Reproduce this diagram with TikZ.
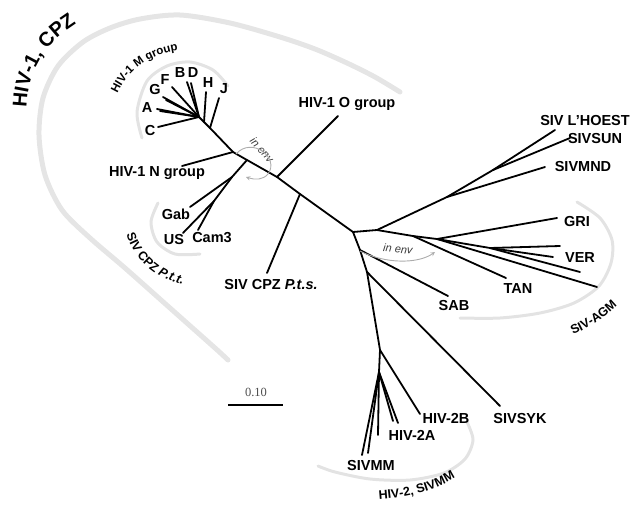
\documentclass[tikz,border=0pt]{standalone}
\usepackage{fontspec}
\setmainfont{Liberation Sans}
\newfontfamily\barfont{Liberation Serif}
\usetikzlibrary{positioning,decorations.text}

\tikzset{
  br/.style={line width=1.8pt, line cap=round},
  grp/.style={line width=5pt, gray!20, line cap=round},
  grpthin/.style={line width=3pt, gray!22, line cap=round},
  lab/.style={font=\fontsize{14.5}{16}\selectfont\bfseries, inner sep=1pt},
  envlab/.style={font=\fontsize{11}{13}\selectfont\itshape, text=gray!45!black, inner sep=1pt},
  envarr/.style={gray!65, line width=0.9pt, -stealth},
  arclab/.style={decorate, decoration={text along path, text align=center, text={#1}}},
}

\begin{document}
\begin{tikzpicture}[x=1pt, y=-1pt]
\useasboundingbox (0,0) rectangle (634,504);

%% grey clade arcs
\draw[grp] plot[smooth] coordinates {(400,92) (375,77) (347,63) (315,49) (280,37) (230,23) (180,15) (140,19) (110,28) (83,42) (58,66) (43,98) (39,135) (45,175) (62,210) (90,238) (125,268) (170,308) (215,348) (228,360)};
\draw[grpthin] plot[smooth] coordinates {(142,138) (137,112) (147,81) (167,66) (190,62) (213,70) (228,86)};
\draw[grpthin] plot[smooth] coordinates {(158,203) (151,222) (157,242) (175,254) (200,254)};
\draw[grpthin] plot[smooth] coordinates {(577,202) (600,218) (612,240) (611,263) (599,286) (574,303) (540,313) (500,318) (460,318)};
\draw[grpthin] plot[smooth] coordinates {(467,422) (473,440) (465,459) (444,473) (410,480) (370,479) (335,472) (318,466)};

%% clade names, set along the arcs
\path[arclab={|\fontsize{20}{22}\selectfont\bfseries|HIV-1, CPZ}] (27,116) .. controls (24,75) and (45,40) .. (84,19);
\path[arclab={|\fontsize{11.5}{13}\selectfont\bfseries|HIV-1 M group}] (112,110) .. controls (121,72) and (150,50) .. (195,49);
\path[arclab={|\fontsize{12.5}{14}\selectfont\bfseries|SIV CPZ |\fontsize{12.5}{14}\selectfont\bfseries\itshape|P.t.t.}] (123,214) .. controls (125,255) and (155,285) .. (203,288);
\path[arclab={|\fontsize{12.5}{14}\selectfont\bfseries|SIV-AGM}] (552,343) .. controls (590,330) and (615,312) .. (632,288);
\path[arclab={|\fontsize{12.5}{14}\selectfont\bfseries|HIV-2, SIVMM}] (354,500) .. controls (405,501) and (447,490) .. (475,462);

%% inner points of the tree
\coordinate (m0) at (199,117);
\coordinate (mH) at (204,122);
\coordinate (mJ) at (210,128);
\coordinate (n1) at (233,152);
\coordinate (p1) at (247,160);
\coordinate (pt1) at (232,177);
\coordinate (pt2) at (214,201);
\coordinate (o1) at (277,177);
\coordinate (c1) at (300,194);
\coordinate (r0) at (353,232);
\coordinate (s1) at (377,230);
\coordinate (s2) at (447,197);
\coordinate (s3) at (493,170);
\coordinate (t1) at (413,236);
\coordinate (t2) at (437,239);
\coordinate (t3) at (490,248);
\coordinate (u1) at (360,250);
\coordinate (u2) at (367,272);
\coordinate (u3) at (380,350);
\coordinate (u4) at (379,372);

%% leaf ends
\coordinate (eC) at (158,127);
\coordinate (eA) at (157,109);
\coordinate (eG) at (163,97);
\coordinate (eF) at (172,87);
\coordinate (eB) at (187,82);
\coordinate (eD) at (191,83);
\coordinate (eH) at (206,92);
\coordinate (eJ) at (219,98);
\coordinate (eN) at (182,166);
\coordinate (eGab) at (190,207);
\coordinate (eUS) at (183,233);
\coordinate (eCam) at (198,230);
\coordinate (eO) at (338,116);
\coordinate (ePts) at (267,273);
\coordinate (eHoe) at (555,130);
\coordinate (eSun) at (570,138);
\coordinate (eMnd) at (545,167);
\coordinate (eGri) at (557,218);
\coordinate (eTan) at (506,278);
\coordinate (eV1) at (560,246);
\coordinate (eV2) at (553,257);
\coordinate (eV3) at (580,272);
\coordinate (eV4) at (597,287);
\coordinate (eSab) at (448,296);
\coordinate (eSyk) at (500,406);
\coordinate (e2B) at (420,414);
\coordinate (e2Aa) at (393,421);
\coordinate (e2Ab) at (398,423);
\coordinate (eMMa) at (362,455);
\coordinate (eMMb) at (368,453);
\coordinate (eMMc) at (378,435);

%% leaf names
\node[lab] (C) at (150,131) {C};
\node[lab] (A) at (147,108) {A};
\node[lab] (G) at (155,90) {G};
\node[lab] (F) at (165,80) {F};
\node[lab] (B) at (180,73) {B};
\node[lab] (D) at (193,73) {D};
\node[lab] (H) at (208,83) {H};
\node[lab] (J) at (224,89) {J};
\node[lab] (N) at (157,173) {HIV-1 N group};
\node[lab] (Gab) at (176,214) {Gab};
\node[lab] (US) at (174,240) {US};
\node[lab] (Cam) at (212,238) {Cam3};
\node[lab] (O) at (347,104) {HIV-1 O group};
\node[lab] (Pts) at (271,285) {SIV CPZ \textit{P.t.s.}};
\node[lab] (Hoe) at (585,121) {SIV L'HOEST};
\node[lab] (Sun) at (595,139) {SIVSUN};
\node[lab] (Mnd) at (583,167) {SIVMND};
\node[lab] (Gri) at (577,222) {GRI};
\node[lab] (Ver) at (580,258) {VER};
\node[lab] (Tan) at (518,289) {TAN};
\node[lab] (Sab) at (454,306) {SAB};
\node[lab] (Syk) at (520,418) {SIVSYK};
\node[lab] (2B) at (446,418) {HIV-2B};
\node[lab] (2A) at (412,435) {HIV-2A};
\node[lab] (MM) at (371,465) {SIVMM};

%% HIV-1 / SIVcpz side
\draw[br] (m0) -- (eC);
\draw[br] (m0) -- (eA);
\draw[br] (m0) -- (160,111);
\draw[br] (m0) -- (eG);
\draw[br] (m0) -- (166,100);
\draw[br] (m0) -- (eF);
\draw[br] (m0) -- (eB);
\draw[br] (m0) -- (eD);
\draw[br] (mH) -- (eH);
\draw[br] (mJ) -- (eJ);
\draw[br] (m0) -- (mH) -- (mJ) -- (n1) -- (p1) -- (o1) -- (c1) -- (r0);
\draw[br] (n1) -- (eN);
\draw[br] (p1) -- (pt1) -- (pt2);
\draw[br] (pt1) -- (eGab);
\draw[br] (pt2) -- (eUS);
\draw[br] (pt2) -- (eCam);
\draw[br] (o1) -- (eO);
\draw[br] (c1) -- (ePts);

%% SIV side
\draw[br] (r0) -- (s1) -- (t1) -- (t2) -- (t3);
\draw[br] (s1) -- (s2) -- (s3);
\draw[br] (s3) -- (eHoe);
\draw[br] (s3) -- (eSun);
\draw[br] (s2) -- (eMnd);
\draw[br] (t1) -- (eTan);
\draw[br] (t2) -- (eGri);
\draw[br] (t3) -- (eV1);
\draw[br] (t3) -- (eV2);
\draw[br] (t3) -- (eV3);
\draw[br] (t2) -- (eV4);
\draw[br] (r0) -- (u1) -- (u2) -- (u3) -- (u4);
\draw[br] (u1) -- (eSab);
\draw[br] (u2) -- (eSyk);
\draw[br] (u3) -- (e2B);
\draw[br] (u4) -- (e2Aa);
\draw[br] (u4) -- (e2Ab);
\draw[br] (u4) -- (eMMa);
\draw[br] (u4) -- (eMMb);
\draw[br] (u4) -- (eMMc);

%% in env marks
\node[envlab, rotate=-48] (env1) at (262,150) {in env};
\draw[envarr] (236,154) .. controls (252,136) and (280,158) .. (268,174) .. controls (263,180) and (255,180) .. (246,177);
\node[envlab, rotate=-6] (env2) at (398,249) {in env};
\draw[envarr] (360,251) .. controls (385,264) and (418,264) .. (435,252);

%% scale bar
\coordinate (sb1) at (228,405);
\coordinate (sb2) at (283,405);
\draw[line width=2pt] (sb1) -- (sb2);
\node[font=\barfont\fontsize{12.5}{14}\selectfont, text=gray!60!black] (sbl) at (256,392) {0.10};
\end{tikzpicture}
\end{document}
